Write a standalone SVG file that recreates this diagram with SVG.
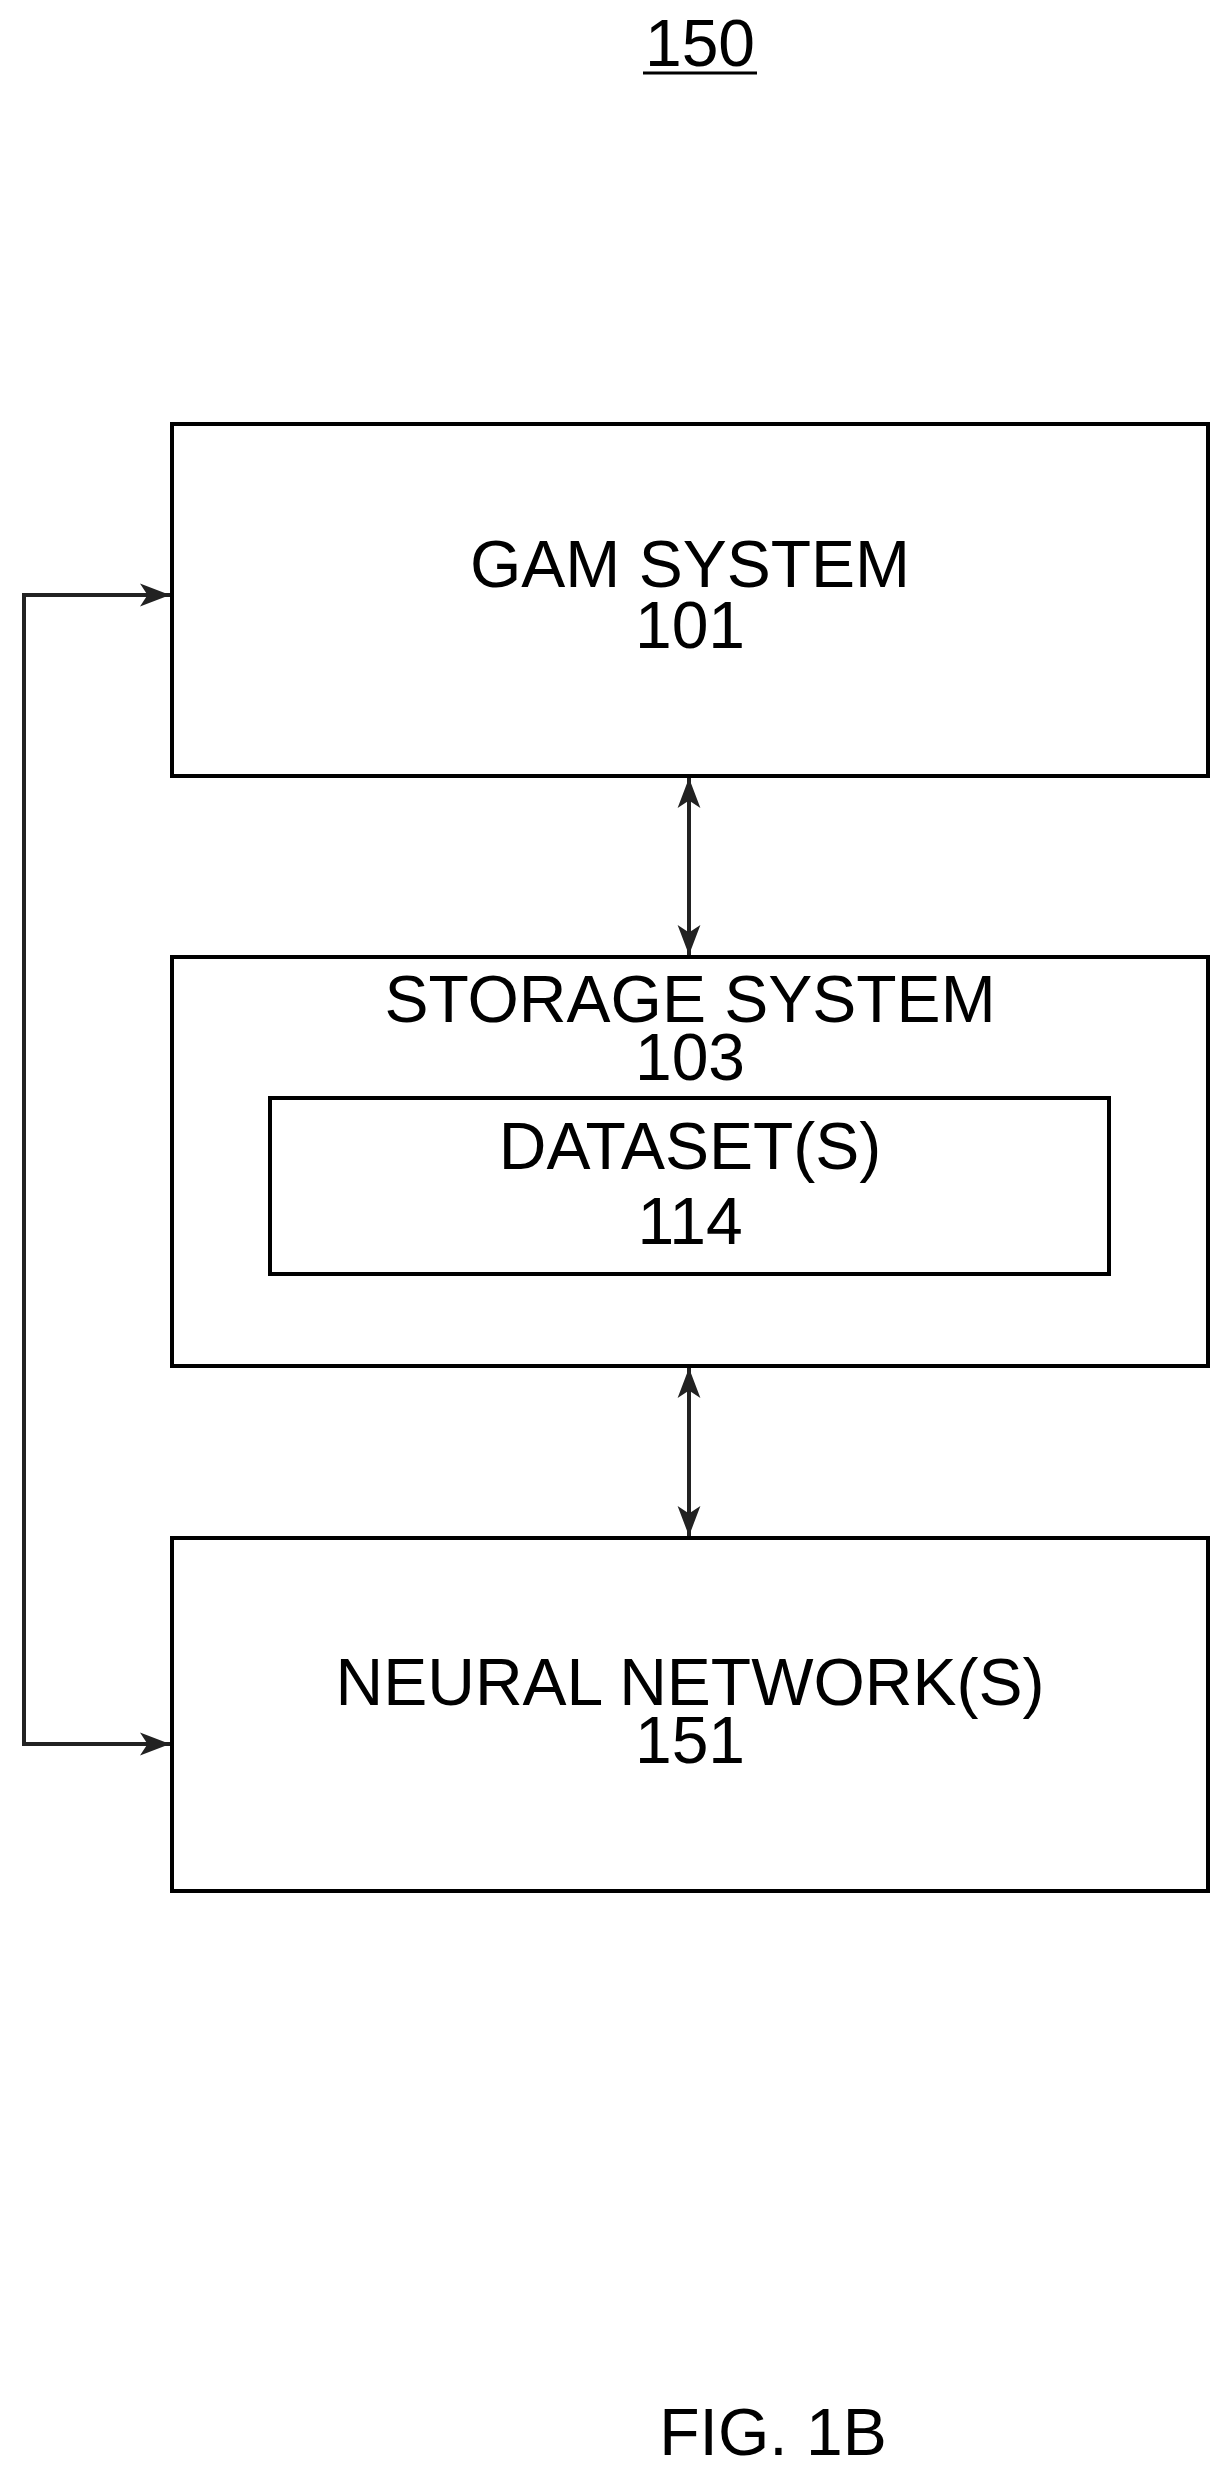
<svg xmlns="http://www.w3.org/2000/svg" width="1230" height="2470" viewBox="0 0 1230 2470">
<style>
.b{fill:none;stroke:#000;stroke-width:4}
.c{fill:none;stroke:#222;stroke-width:4}
text{font-family:"Liberation Sans",Arial,sans-serif;font-size:66px;text-anchor:middle;fill:#000}
</style>
<defs><marker id="a" viewBox="0 0 10 10" refX="10" refY="5" markerWidth="30" markerHeight="30" markerUnits="userSpaceOnUse" orient="auto-start-reverse"><path d="M0,1.2 L10,5 L0,8.8 L2.5,5 Z" fill="#222"/></marker></defs>
<rect width="1230" height="2470" fill="#fff"/>
<g id="title"><text x="700" y="66" font-size="52">150</text><line x1="643" y1="73" x2="757" y2="73" stroke="#000" stroke-width="3"/></g>
<g id="gam"><rect class="b" x="172" y="424" width="1036" height="352"/><text x="690" y="587">GAM SYSTEM</text><text x="690" y="648">101</text></g>
<g id="storage"><rect class="b" x="172" y="957" width="1036" height="409"/><text x="690" y="1022">STORAGE SYSTEM</text><text x="690" y="1080">103</text>
<g id="dataset"><rect class="b" x="270" y="1098" width="839" height="176"/><text x="690" y="1169">DATASET(S)</text><text x="690" y="1244">114</text></g></g>
<g id="nn"><rect class="b" x="172" y="1538" width="1036" height="353"/><text x="690" y="1705">NEURAL NETWORK(S)</text><text x="690" y="1763">151</text></g>
<g id="connectors">
<line class="c" x1="689" y1="778" x2="689" y2="955" marker-start="url(#a)" marker-end="url(#a)"/>
<line class="c" x1="689" y1="1368" x2="689" y2="1536" marker-start="url(#a)" marker-end="url(#a)"/>
<polyline class="c" points="170,595 24,595 24,1744 170,1744" marker-start="url(#a)" marker-end="url(#a)"/>
</g>
<text x="773" y="2455" font-size="60">FIG. 1B</text>
</svg>
